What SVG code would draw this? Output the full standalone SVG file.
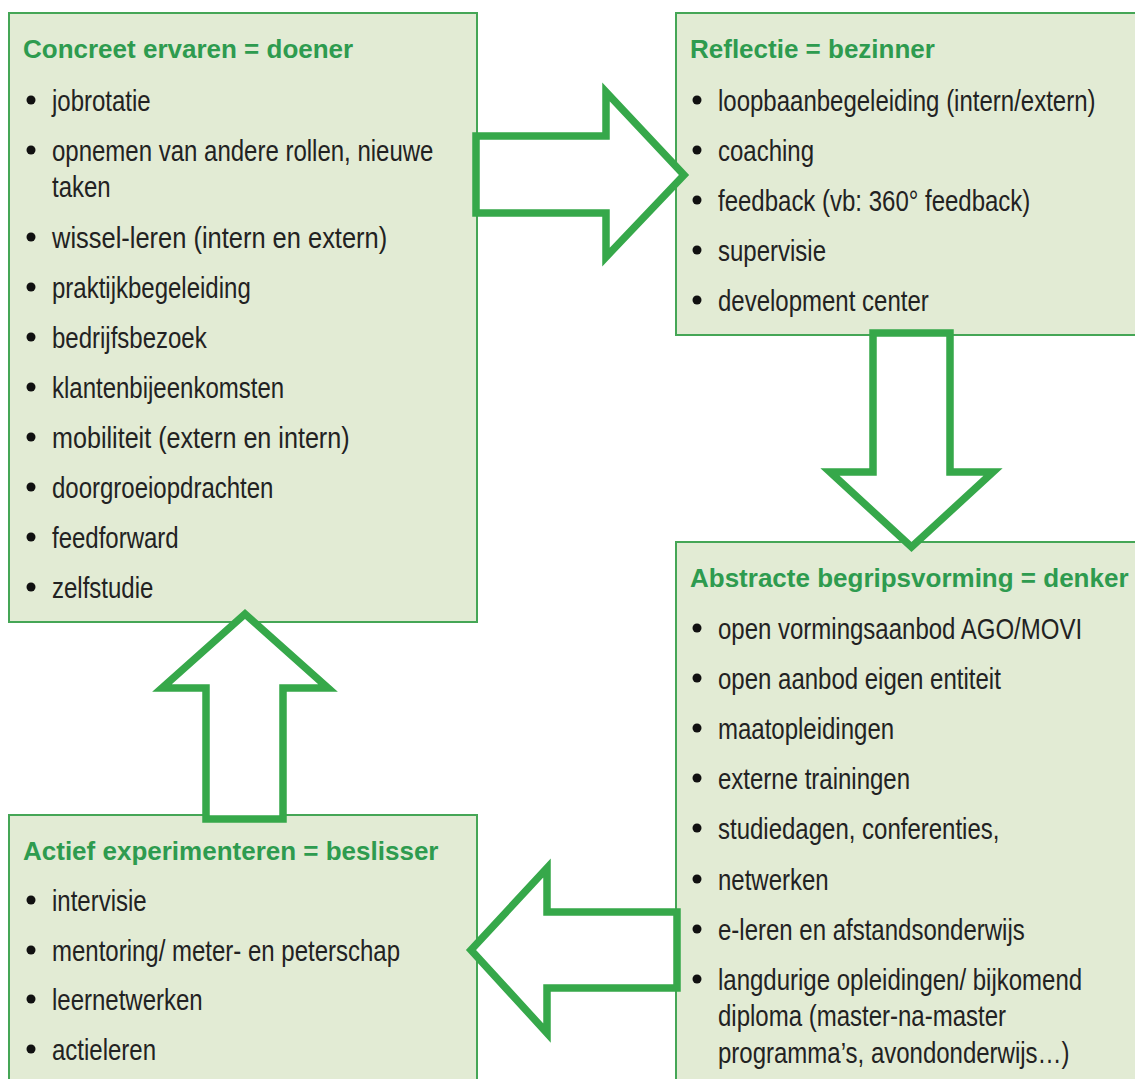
<svg xmlns="http://www.w3.org/2000/svg" width="1135" height="1079" viewBox="0 0 1135 1079">
<style>
.box{fill:#e2ebd4;stroke:#45a656;stroke-width:2}
.title{font-family:"Liberation Sans",Arial,sans-serif;font-weight:bold;font-size:26px;fill:#2e9b4f}
.item{font-family:"Liberation Sans",Arial,sans-serif;font-size:30px;fill:#222}
.bul{fill:#111}
.arrow{fill:#fff;stroke:#36a84a;stroke-width:7.5;stroke-linejoin:miter;stroke-miterlimit:10}
</style>
<rect width="1135" height="1079" fill="#fff"/>

<g id="node-concreet">
<rect class="box" x="9" y="13" width="468" height="609"/>
<text class="title" x="23" y="58">Concreet ervaren = doener</text>
<g class="bul">
<circle cx="31" cy="100" r="4.5"/><circle cx="31" cy="150" r="4.5"/><circle cx="31" cy="237" r="4.5"/><circle cx="31" cy="287" r="4.5"/><circle cx="31" cy="337" r="4.5"/><circle cx="31" cy="387" r="4.5"/><circle cx="31" cy="437" r="4.5"/><circle cx="31" cy="487" r="4.5"/><circle cx="31" cy="537" r="4.5"/><circle cx="31" cy="587" r="4.5"/>
</g>
<g transform="scale(0.8 1)">
<text class="item" x="65" y="111">jobrotatie</text>
<text class="item" x="65" y="161">opnemen van andere rollen, nieuwe</text>
<text class="item" x="65" y="197">taken</text>
<text class="item" x="65" y="248" textLength="419" lengthAdjust="spacingAndGlyphs">wissel-leren (intern en extern)</text>
<text class="item" x="65" y="298">praktijkbegeleiding</text>
<text class="item" x="65" y="348">bedrijfsbezoek</text>
<text class="item" x="65" y="398">klantenbijeenkomsten</text>
<text class="item" x="65" y="448" textLength="372" lengthAdjust="spacingAndGlyphs">mobiliteit (extern en intern)</text>
<text class="item" x="65" y="498">doorgroeiopdrachten</text>
<text class="item" x="65" y="548">feedforward</text>
<text class="item" x="65" y="598">zelfstudie</text>
</g>
</g>

<g id="node-reflectie">
<rect class="box" x="676" y="13" width="470" height="322"/>
<text class="title" x="690" y="58">Reflectie = bezinner</text>
<g class="bul">
<circle cx="697" cy="100" r="4.5"/><circle cx="697" cy="150" r="4.5"/><circle cx="697" cy="200" r="4.5"/><circle cx="697" cy="250" r="4.5"/><circle cx="697" cy="300" r="4.5"/>
</g>
<g transform="scale(0.8 1)">
<text class="item" x="897.5" y="111">loopbaanbegeleiding (intern/extern)</text>
<text class="item" x="897.5" y="161">coaching</text>
<text class="item" x="897.5" y="211">feedback (vb: 360° feedback)</text>
<text class="item" x="897.5" y="261">supervisie</text>
<text class="item" x="897.5" y="311">development center</text>
</g>
</g>

<g id="node-abstracte">
<rect class="box" x="676" y="542" width="470" height="560"/>
<text class="title" x="690" y="587">Abstracte begripsvorming = denker</text>
<g class="bul">
<circle cx="697" cy="628" r="4.5"/><circle cx="697" cy="678" r="4.5"/><circle cx="697" cy="728" r="4.5"/><circle cx="697" cy="778" r="4.5"/><circle cx="697" cy="828" r="4.5"/><circle cx="697" cy="879" r="4.5"/><circle cx="697" cy="929" r="4.5"/><circle cx="697" cy="979" r="4.5"/>
</g>
<g transform="scale(0.8 1)">
<text class="item" x="897.5" y="639">open vormingsaanbod AGO/MOVI</text>
<text class="item" x="897.5" y="689">open aanbod eigen entiteit</text>
<text class="item" x="897.5" y="739">maatopleidingen</text>
<text class="item" x="897.5" y="789">externe trainingen</text>
<text class="item" x="897.5" y="839">studiedagen, conferenties,</text>
<text class="item" x="897.5" y="890">netwerken</text>
<text class="item" x="897.5" y="940">e-leren en afstandsonderwijs</text>
<text class="item" x="897.5" y="990">langdurige opleidingen/ bijkomend</text>
<text class="item" x="897.5" y="1026">diploma (master-na-master</text>
<text class="item" x="897.5" y="1063">programma’s, avondonderwijs…)</text>
</g>
</g>

<g id="node-actief">
<rect class="box" x="9" y="815" width="468" height="290"/>
<text class="title" x="23" y="860">Actief experimenteren = beslisser</text>
<g class="bul">
<circle cx="31" cy="900" r="4.5"/><circle cx="31" cy="950" r="4.5"/><circle cx="31" cy="999" r="4.5"/><circle cx="31" cy="1049" r="4.5"/>
</g>
<g transform="scale(0.8 1)">
<text class="item" x="65" y="911">intervisie</text>
<text class="item" x="65" y="961">mentoring/ meter- en peterschap</text>
<text class="item" x="65" y="1010">leernetwerken</text>
<text class="item" x="65" y="1060">actieleren</text>
</g>
</g>

<g id="connectors">
<polygon class="arrow" points="476,136 606,136 606,92 684,175 606,257 606,213 476,213"/>
<polygon class="arrow" points="873,333 950,333 950,472 993,472 911.5,547 830,472 873,472"/>
<polygon class="arrow" points="677,912 547,912 547,868 471,950 547,1033 547,988 677,988"/>
<polygon class="arrow" points="206,819 206,688 162,688 245,614 328,688 283,688 283,819"/>
</g>
</svg>
